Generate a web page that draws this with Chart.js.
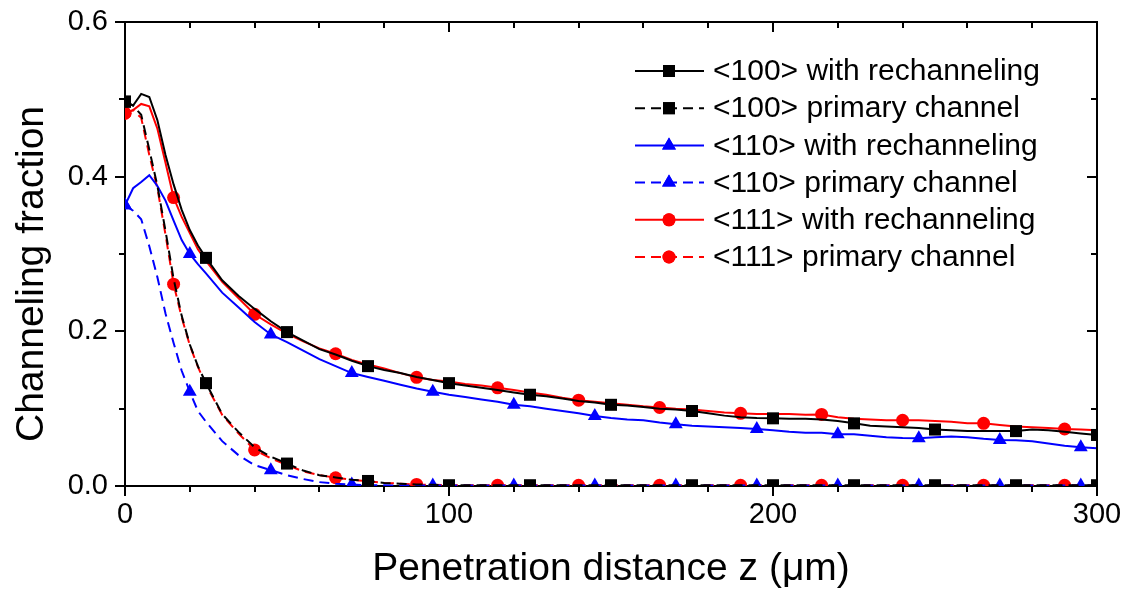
<!DOCTYPE html>
<html lang="en">
<head>
  <meta charset="UTF-8" />
  <title>Channeling fraction</title>
  <script src="https://cdn.jsdelivr.net/npm/chart.js"></script>
  <style>
    html, body { margin: 0; padding: 0; background: #fff; }
    #wrap { width: 1125px; height: 595px; }
  </style>
</head>
<body>
  <div id="wrap"><canvas id="chart" width="1125" height="595"></canvas></div>
  <script>
    // penetration depth z (um), shared by every curve
    const zGrid = [0, 2.5, 5, 7.5, 10, 12.5, 15, 17.5, 20, 22.5, 25,
      30, 35, 40, 45, 50, 55, 60, 65, 70, 75, 80, 85, 90, 95, 100,
      105, 110, 115, 120, 125, 130, 135, 140, 145, 150, 155, 160, 165, 170, 175,
      180, 185, 190, 195, 200, 205, 210, 215, 220, 225, 230, 235, 240, 245, 250,
      255, 260, 265, 270, 275, 280, 285, 290, 295, 300];

    const rech100 = [0.497, 0.492, 0.507, 0.503, 0.473, 0.428, 0.390, 0.357, 0.331, 0.311, 0.295,
      0.266, 0.246, 0.229, 0.213, 0.199, 0.188, 0.177, 0.170, 0.162, 0.155, 0.150, 0.146, 0.141, 0.137, 0.133,
      0.130, 0.127, 0.124, 0.121, 0.118, 0.116, 0.113, 0.110, 0.108, 0.105, 0.104, 0.102, 0.100, 0.099, 0.097,
      0.094, 0.091, 0.089, 0.088, 0.0875, 0.087, 0.087, 0.086, 0.084, 0.081, 0.078, 0.077, 0.076, 0.075, 0.073,
      0.072, 0.071, 0.071, 0.071, 0.071, 0.073, 0.072, 0.070, 0.068, 0.066];
    const prim100 = [0.497, 0.492, 0.480, 0.435, 0.388, 0.330, 0.268, 0.220, 0.183, 0.155, 0.133,
      0.093, 0.070, 0.050, 0.038, 0.029, 0.020, 0.014, 0.011, 0.008, 0.0065, 0.004, 0.003, 0.002, 0.0015, 0.001,
      0.001, 0.001, 0.001, 0.001, 0.001, 0.001, 0.001, 0.001, 0.001, 0.001, 0.001, 0.001, 0.001, 0.001, 0.001,
      0.001, 0.001, 0.001, 0.001, 0.001, 0.001, 0.001, 0.001, 0.001, 0.001, 0.001, 0.001, 0.001, 0.001, 0.001,
      0.001, 0.001, 0.001, 0.001, 0.001, 0.001, 0.001, 0.001, 0.001, 0.001];
    const rech110 = [0.363, 0.385, 0.393, 0.402, 0.388, 0.369, 0.343, 0.318, 0.300, 0.287, 0.275,
      0.250, 0.231, 0.212, 0.196, 0.186, 0.175, 0.164, 0.155, 0.146, 0.141, 0.136, 0.131, 0.126, 0.122, 0.118,
      0.115, 0.112, 0.109, 0.105, 0.103, 0.100, 0.097, 0.094, 0.0905, 0.088, 0.086, 0.085, 0.082, 0.0797, 0.078,
      0.077, 0.076, 0.075, 0.0737, 0.072, 0.070, 0.069, 0.069, 0.067, 0.067, 0.065, 0.063, 0.062, 0.0616, 0.063,
      0.064, 0.063, 0.061, 0.0595, 0.059, 0.058, 0.055, 0.052, 0.050, 0.0487];
    const prim110 = [0.363, 0.356, 0.345, 0.310, 0.270, 0.223, 0.185, 0.149, 0.122, 0.097, 0.083,
      0.058, 0.040, 0.027, 0.0205, 0.014, 0.009, 0.005, 0.003, 0.002, 0.001, 0.001, 0.0005, 0.0005, 0.0005, 0.0005,
      0.0005, 0.0005, 0.0005, 0.0005, 0.0005, 0.0005, 0.0005, 0.0005, 0.0005, 0.0005, 0.0005, 0.0005, 0.0005, 0.0005, 0.0005,
      0.0005, 0.0005, 0.0005, 0.0005, 0.0005, 0.0005, 0.0005, 0.0005, 0.0005, 0.0005, 0.0005, 0.0005, 0.0005, 0.0005, 0.0005,
      0.0005, 0.0005, 0.0005, 0.0005, 0.0005, 0.0005, 0.0005, 0.0005, 0.0005, 0.0005];
    const rech111 = [0.482, 0.486, 0.494, 0.491, 0.462, 0.418, 0.373, 0.348, 0.327, 0.306, 0.291,
      0.264, 0.243, 0.222, 0.209, 0.197, 0.187, 0.178, 0.171, 0.163, 0.157, 0.152, 0.146, 0.1405, 0.137, 0.135,
      0.132, 0.130, 0.127, 0.124, 0.121, 0.118, 0.114, 0.111, 0.109, 0.107, 0.105, 0.103, 0.1015, 0.100, 0.099,
      0.097, 0.095, 0.094, 0.093, 0.093, 0.093, 0.092, 0.0925, 0.089, 0.087, 0.086, 0.085, 0.085, 0.085, 0.084,
      0.083, 0.081, 0.081, 0.079, 0.077, 0.076, 0.075, 0.0737, 0.073, 0.072];
    const prim111 = [0.482, 0.486, 0.476, 0.428, 0.385, 0.325, 0.261, 0.218, 0.182, 0.154, 0.131,
      0.092, 0.068, 0.0466, 0.036, 0.027, 0.019, 0.014, 0.0107, 0.008, 0.006, 0.004, 0.003, 0.002, 0.0015, 0.001,
      0.001, 0.001, 0.001, 0.001, 0.001, 0.001, 0.001, 0.001, 0.001, 0.001, 0.001, 0.001, 0.001, 0.001, 0.001,
      0.001, 0.001, 0.001, 0.001, 0.001, 0.001, 0.001, 0.001, 0.001, 0.001, 0.001, 0.001, 0.001, 0.001, 0.001,
      0.001, 0.001, 0.001, 0.001, 0.001, 0.001, 0.001, 0.001, 0.001, 0.001];

    // where the symbols sit along each curve
    const squareZ = [0, 25, 50, 75, 100, 125, 150, 175, 200, 225, 250, 275, 300];
    const triangleZ = [0, 20, 45, 70, 95, 120, 145, 170, 195, 220, 245, 270, 295];
    const circleZ = [0, 15, 40, 65, 90, 115, 140, 165, 190, 215, 240, 265, 290];

    const seriesNames = ['<100> with rechanneling', '<100> primary channel',
      '<110> with rechanneling', '<110> primary channel',
      '<111> with rechanneling', '<111> primary channel'];

    const xTicks = [0, 100, 200, 300];
    const yTicks = [0.0, 0.2, 0.4, 0.6];
    const yTitle = 'Channeling fraction';

    const FONT = '"Liberation Sans", Arial, Helvetica, sans-serif';
    const DASH = [10, 6];

    function toPoints(vals) {
      return zGrid.map((z, i) => ({ x: z, y: vals[i] }));
    }

    function makeSet(label, vals, color, dashed, style, where, r) {
      return {
        label: label,
        data: toPoints(vals),
        borderColor: color,
        backgroundColor: color,
        borderWidth: 2,
        borderDash: dashed ? DASH : [],
        pointStyle: style,
        pointBorderWidth: 0,
        pointBackgroundColor: color,
        pointBorderColor: color,
        pointRadius: ctx => (ctx.raw && where.includes(ctx.raw.x)) ? r : 0,
        pointHoverRadius: ctx => (ctx.raw && where.includes(ctx.raw.x)) ? r : 0,
        tension: 0,
        clip: 0,
        fill: false
      };
    }

    const datasets = [
      makeSet(seriesNames[0], rech100, '#000000', false, 'rect', squareZ, 8.5),
      makeSet(seriesNames[1], prim100, '#000000', true, 'rect', squareZ, 8.5),
      makeSet(seriesNames[2], rech110, '#0000ff', false, 'triangle', triangleZ, 8),
      makeSet(seriesNames[3], prim110, '#0000ff', true, 'triangle', triangleZ, 8),
      makeSet(seriesNames[4], rech111, '#ff0000', false, 'circle', circleZ, 6.5),
      makeSet(seriesNames[5], prim111, '#ff0000', true, 'circle', circleZ, 6.5)
    ];

    // box frame with minor ticks: outward on left/bottom, inward on top/right
    const frameTicks = {
      id: 'frameTicks',
      afterDraw(chart) {
        const ctx = chart.ctx;
        const a = chart.chartArea;
        const xs = chart.scales.x, ys = chart.scales.y;
        ctx.save();
        ctx.strokeStyle = '#000';
        ctx.lineWidth = 2;
        ctx.beginPath();
        ctx.moveTo(a.left - 1, a.top);
        ctx.lineTo(a.right, a.top);
        ctx.lineTo(a.right, a.bottom + 1);
        ctx.stroke();
        ctx.beginPath();
        for (let v = 0; v <= 300; v += 20) {
          const px = Math.round(xs.getPixelForValue(v));
          const len = v % 100 === 0 ? 10 : 6;
          ctx.moveTo(px, a.bottom); ctx.lineTo(px, a.bottom + len);
          ctx.moveTo(px, a.top); ctx.lineTo(px, a.top + len);
        }
        for (let k = 0; k <= 6; k++) {
          const py = Math.round(ys.getPixelForValue(k / 10));
          const len = k % 2 === 0 ? 10 : 6;
          ctx.moveTo(a.left, py); ctx.lineTo(a.left - len, py);
          ctx.moveTo(a.right, py); ctx.lineTo(a.right - len, py);
        }
        ctx.stroke();

        // y axis title, sits a little below the middle of the axis like the original
        ctx.fillStyle = '#000';
        ctx.font = '39px ' + FONT;
        ctx.textAlign = 'center';
        ctx.textBaseline = 'alphabetic';
        ctx.translate(43, 274);
        ctx.rotate(-Math.PI / 2);
        ctx.fillText(yTitle, 0, 0);
        ctx.restore();
      }
    };

    // legend with line + symbol samples
    const lineLegend = {
      id: 'lineLegend',
      afterDraw(chart) {
        const ctx = chart.ctx;
        ctx.save();
        chart.data.datasets.forEach((ds, i) => {
          const y = 71 + i * 37.2;
          ctx.strokeStyle = ds.borderColor;
          ctx.lineWidth = 2;
          ctx.setLineDash(ds.borderDash);
          ctx.beginPath();
          ctx.moveTo(635, y);
          ctx.lineTo(704, y);
          ctx.stroke();
          ctx.setLineDash([]);
          const r = ds.pointStyle === 'circle' ? 6.5 : (ds.pointStyle === 'rect' ? 8.5 : 8);
          ctx.fillStyle = ds.borderColor;
          Chart.helpers.drawPoint(ctx, { pointStyle: ds.pointStyle, radius: r, borderWidth: 0, rotation: 0 }, 669, y);
          ctx.fill();
          ctx.fillStyle = '#000';
          ctx.font = '30px ' + FONT;
          ctx.textBaseline = 'middle';
          ctx.textAlign = 'left';
          ctx.fillText(ds.label, 713, y + 1);
        });
        ctx.restore();
      }
    };

    new Chart(document.getElementById('chart'), {
      type: 'line',
      data: { datasets: datasets },
      options: {
        responsive: false,
        animation: false,
        events: [],
        layout: { padding: { left: 0, right: 28, top: 22, bottom: 0 } },
        plugins: {
          legend: { display: false },
          tooltip: { enabled: false }
        },
        scales: {
          x: {
            type: 'linear',
            min: 0,
            max: 300,
            afterFit: s => { s.height = 109; s.paddingLeft = 0; s.paddingRight = 0; },
            afterBuildTicks: s => { s.ticks = xTicks.map(v => ({ value: v })); },
            grid: { display: false, drawTicks: false },
            border: { display: true, color: '#000', width: 2 },
            ticks: {
              color: '#000',
              padding: 12,
              maxRotation: 0,
              font: { family: FONT, size: 29 },
              callback: v => String(v)
            },
            title: {
              display: true,
              text: 'Penetration distance z (μm)',
              color: '#000',
              font: { family: FONT, size: 39 },
              padding: { top: 0, bottom: 2 }
            }
          },
          y: {
            type: 'linear',
            min: 0,
            max: 0.6,
            afterFit: s => { s.width = 125; s.paddingTop = 0; s.paddingBottom = 0; },
            afterBuildTicks: s => { s.ticks = yTicks.map(v => ({ value: v })); },
            grid: { display: false, drawTicks: false },
            border: { display: true, color: '#000', width: 2 },
            ticks: {
              color: '#000',
              padding: 17,
              font: { family: FONT, size: 29 },
              callback: v => v.toFixed(1)
            },
            title: { display: false }
          }
        }
      },
      plugins: [frameTicks, lineLegend]
    });
  </script>
</body>
</html>
